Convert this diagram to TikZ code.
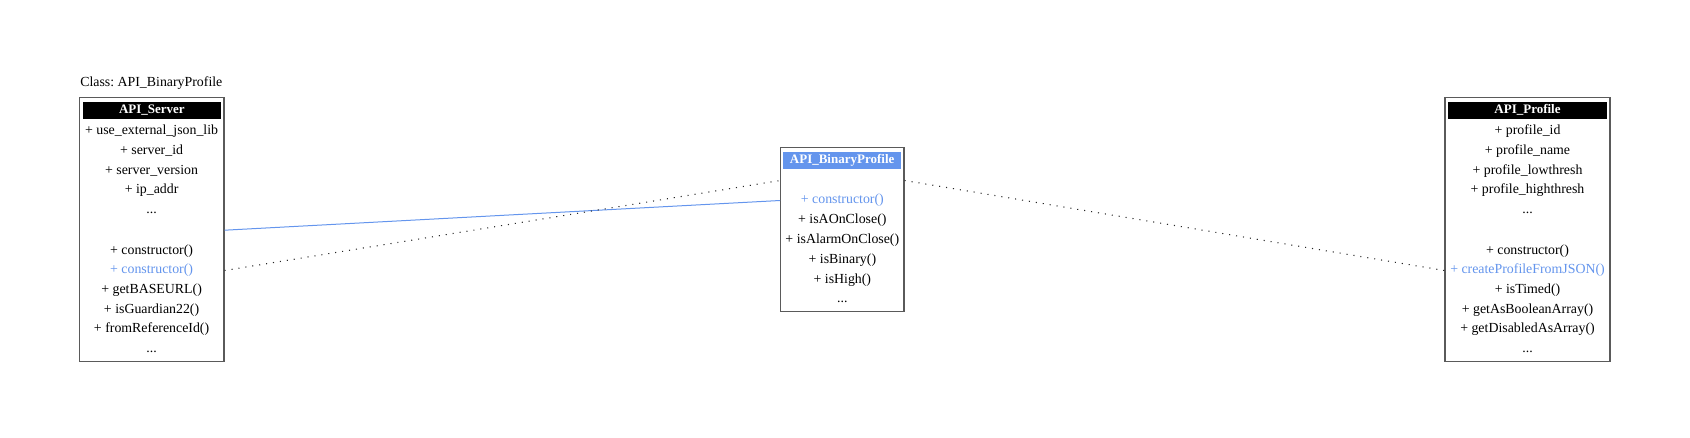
\documentclass[tikz,border=0pt]{standalone}
\usepackage{fontspec}
\setmainfont{Liberation Serif}
\usetikzlibrary{fit}
\definecolor{cfblue}{RGB}{100,149,237}
\definecolor{boxgray}{RGB}{90,90,90}
\tikzset{
  classbox/.style={draw=boxgray, line width=0.9pt, fill=white, inner sep=0pt},
  headbox/.style={inner sep=0pt, draw=none},
  headtext/.style={inner sep=0pt, text=white, font=\fontsize{9.75}{12}\selectfont\bfseries, text height=7pt, text depth=2pt},
  row/.style={inner sep=0pt, text height=7pt, text depth=2pt},
  hl/.style={row, text=cfblue},
  dotline/.style={line width=0.8pt, dash pattern=on 0.8pt off 4.45pt, black!85},
  blueline/.style={cfblue, line width=0.75pt}
}
\begin{document}
\frenchspacing
\begin{tikzpicture}[x=0.75pt,y=-0.75pt, font=\fontsize{10.4}{12}\selectfont]
\useasboundingbox (0,0) rectangle (1690,438);

\node[anchor=west, inner sep=0pt, text height=7pt, text depth=2pt] (lbl) at (80,83) {Class: API\_BinaryProfile};

% ---- API_Server box
\node[classbox, fit={(79.3,97.5) (224,361.5)}] (srv) {};
\node[headbox, fill=black, fit={(83,101.7) (220.7,119.3)}] (srvH) {};
\node[headtext] (srvHt) at (srvH.center) {API\_Server};
\node[row] (s0) at (151.6,131.2) {+ use\_external\_json\_lib};
\node[row] (s1) at (151.6,151.0) {+ server\_id};
\node[row] (s2) at (151.6,170.8) {+ server\_version};
\node[row] (s3) at (151.6,190.6) {+ ip\_addr};
\node[row] (s4) at (151.6,210.3) {...};
\coordinate (s5) at (151.6,230.2);
\node[row] (s6) at (151.6,250.8) {+ constructor()};
\node[hl]  (s7) at (151.6,270.5) {+ constructor()};
\node[row] (s8) at (151.6,290.2) {+ getBASEURL()};
\node[row] (s9) at (151.6,309.9) {+ isGuardian22()};
\node[row] (s10) at (151.6,329.6) {+ fromReferenceId()};
\node[row] (s11) at (151.6,349.3) {...};

% ---- API_BinaryProfile box
\node[classbox, fit={(780.7,147.5) (904,311.7)}] (mid) {};
\node[headbox, fill=cfblue, fit={(783.3,151.7) (901,169.3)}] (midH) {};
\node[headtext] (midHt) at (midH.center) {API\_BinaryProfile};
\coordinate (m0) at (842.35,180.5);
\node[hl]  (m1) at (842.35,200.5) {+ constructor()};
\node[row] (m2) at (842.35,220.3) {+ isAOnClose()};
\node[row] (m3) at (842.35,240.1) {+ isAlarmOnClose()};
\node[row] (m4) at (842.35,259.9) {+ isBinary()};
\node[row] (m5) at (842.35,279.7) {+ isHigh()};
\node[row] (m6) at (842.35,299.3) {...};

% ---- API_Profile box
\node[classbox, fit={(1445,97.5) (1610,361.5)}] (prf) {};
\node[headbox, fill=black, fit={(1448.3,101.7) (1606.7,119.3)}] (prfH) {};
\node[headtext] (prfHt) at (prfH.center) {API\_Profile};
\node[row] (p0) at (1527.5,131.2) {+ profile\_id};
\node[row] (p1) at (1527.5,151.0) {+ profile\_name};
\node[row] (p2) at (1527.5,170.8) {+ profile\_lowthresh};
\node[row] (p3) at (1527.5,190.6) {+ profile\_highthresh};
\node[row] (p4) at (1527.5,210.3) {...};
\coordinate (p5) at (1527.5,230.2);
\node[row] (p6) at (1527.5,250.8) {+ constructor()};
\node[hl]  (p7) at (1527.5,270.5) {+ createProfileFromJSON()};
\node[row] (p8) at (1527.5,290.2) {+ isTimed()};
\node[row] (p9) at (1527.5,309.9) {+ getAsBooleanArray()};
\node[row] (p10) at (1527.5,329.6) {+ getDisabledAsArray()};
\node[row] (p11) at (1527.5,349.3) {...};

% ---- connectors
\draw[blueline] (srv.east |- s5) -- (mid.west |- m1);
\draw[dotline] (srv.east |- s7) -- (mid.west |- m0);
\draw[dotline] (mid.east |- m0) -- (prf.west |- p7);
\end{tikzpicture}
\end{document}
